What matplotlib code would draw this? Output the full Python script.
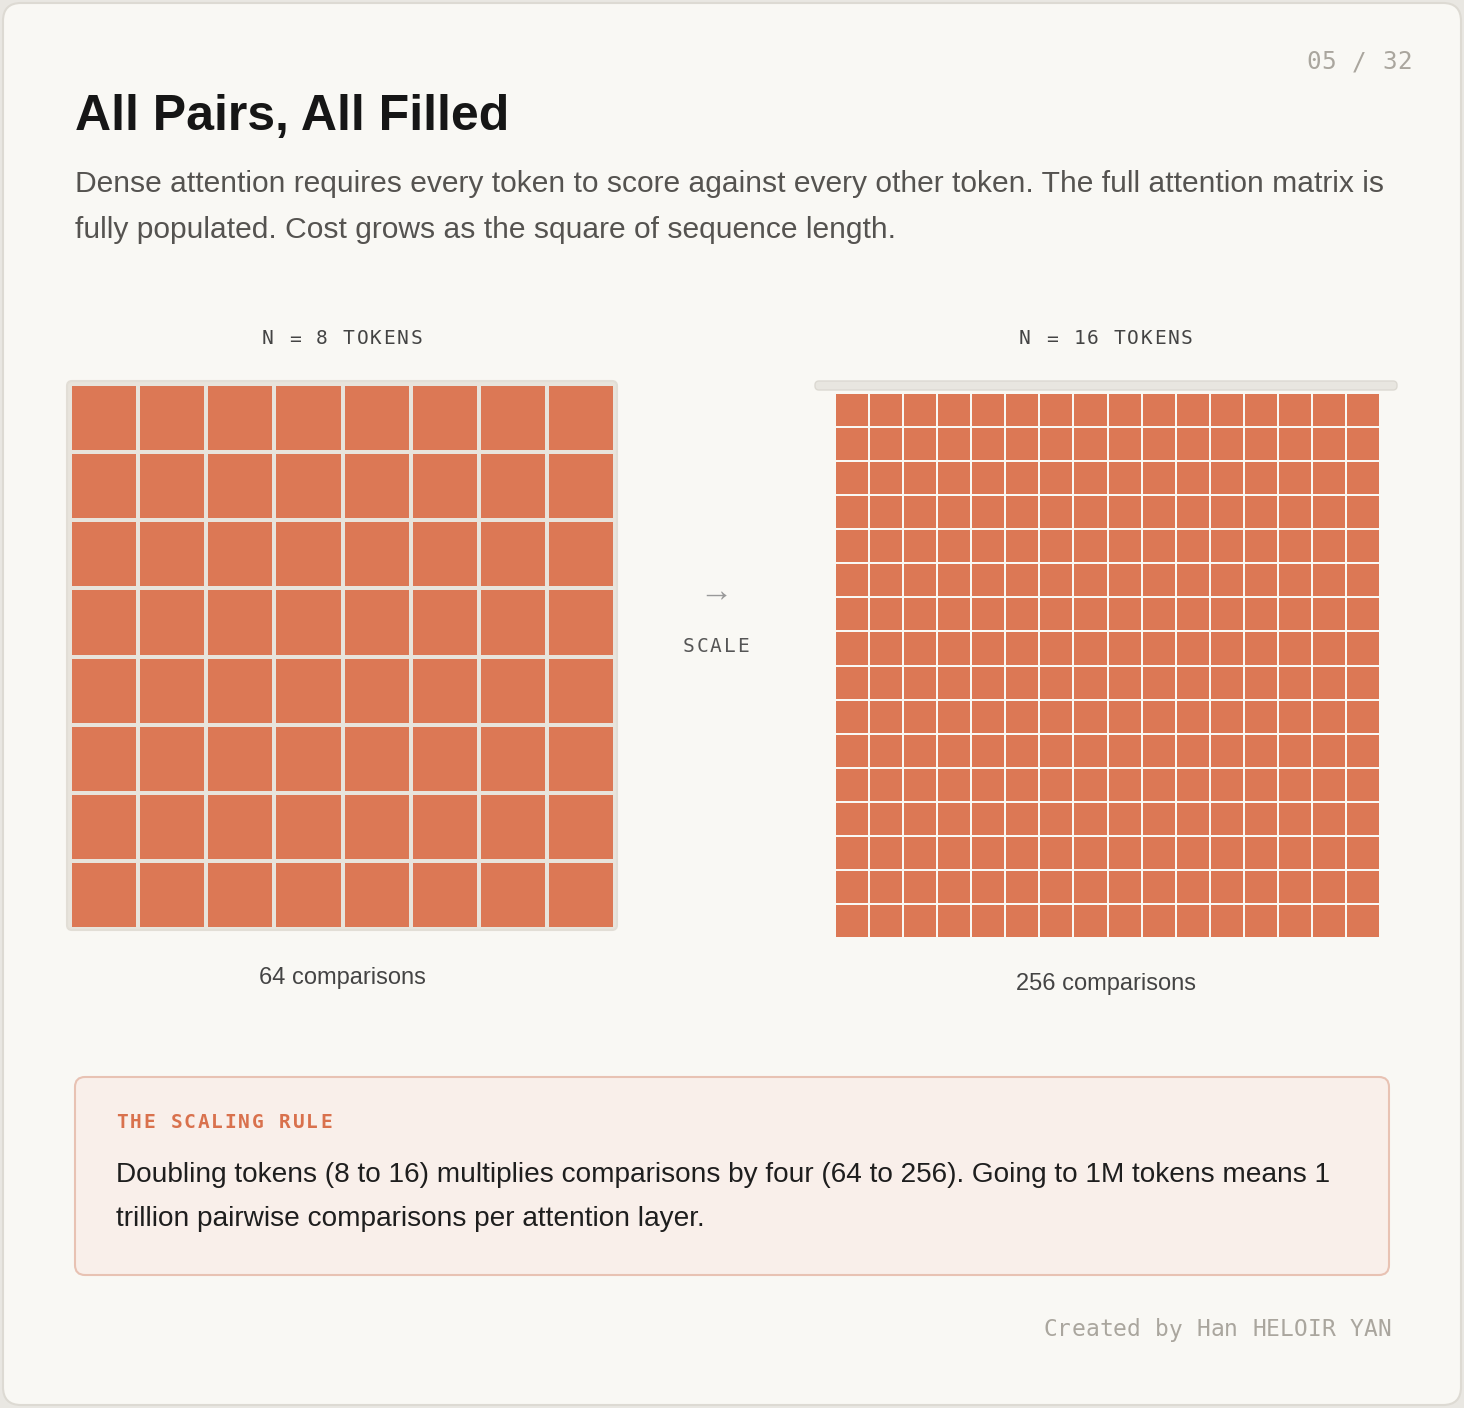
import matplotlib
matplotlib.use("Agg")
import matplotlib.pyplot as plt
from matplotlib.patches import Rectangle, FancyBboxPatch

# data
token_counts = [8, 16]
comparisons = [n * n for n in token_counts]
grid_labels = ["N = 8 TOKENS", "N = 16 TOKENS"]
comp_labels = [f"{c} comparisons" for c in comparisons]

BG = "#f9f8f4"
CELL = "#dc7855"
SANS = ["Liberation Sans", "DejaVu Sans"]
MONO = ["DejaVu Sans Mono"]

W, H = 1464, 1408
fig = plt.figure(figsize=(W / 100, H / 100), dpi=100)
fig.patch.set_facecolor("#e9e7e2")
ax = fig.add_axes([0, 0, 1, 1])
ax.set_xlim(0, W); ax.set_ylim(H, 0); ax.axis("off")


def spaced(x, y, s, size, pitch, ha="left", **kw):
    # monospace text with letter spacing; pitch = px per character
    total = pitch * len(s)
    if ha == "center":
        x = x - total / 2
    elif ha == "right":
        x = x - total
    for i, ch in enumerate(s):
        ax.text(x + i * pitch + pitch / 2, y, ch, family=MONO, fontsize=size,
                ha="center", va="center", **kw)


ax.add_patch(FancyBboxPatch((3, 3), W - 6, H - 6, boxstyle="round,pad=0,rounding_size=18",
                            fc=BG, ec="#dddad3", lw=1.5))

spaced(1412, 62, "05 / 32", 17.5, 15.2, ha="right", color="#aaa69e")
ax.text(75, 117, "All Pairs, All Filled", family=SANS, fontsize=36, weight="bold",
        color="#161616", va="center")
ax.text(75, 184, "Dense attention requires every token to score against every other token. The full attention matrix is",
        family=SANS, fontsize=21.6, color="#555350", va="center")
ax.text(75, 230, "fully populated. Cost grows as the square of sequence length.",
        family=SANS, fontsize=21.6, color="#555350", va="center")

# left grid
x0, y0, size, gap = 72, 386, 541, 4
ax.add_patch(FancyBboxPatch((67, 381), 550, 549, boxstyle="round,pad=0,rounding_size=5",
                            fc="#e8e4dc", ec="#e2ded6", lw=1.5))
n = token_counts[0]
step = (size + gap) / n
for i in range(n):
    for j in range(n):
        ax.add_patch(Rectangle((x0 + j * step, y0 + i * step), step - gap, step - gap, fc=CELL, ec="none"))
spaced(342, 339, grid_labels[0], 14, 13.5, ha="center", color="#444")
ax.text(342, 978, comp_labels[0], family=SANS, fontsize=17, color="#444", ha="center", va="center")

# right grid
ax.add_patch(FancyBboxPatch((815, 381), 582, 9, boxstyle="round,pad=0,rounding_size=4",
                            fc="#e8e6e0", ec="#dcd9d2", lw=1))
x1, y1, size1, gap1 = 836, 394, 543, 2
n = token_counts[1]
step = (size1 + gap1) / n
for i in range(n):
    for j in range(n):
        ax.add_patch(Rectangle((x1 + j * step, y1 + i * step), step - gap1, step - gap1, fc=CELL, ec="none"))
spaced(1106, 339, grid_labels[1], 14, 13.5, ha="center", color="#444")
ax.text(1106, 984, comp_labels[1], family=SANS, fontsize=17, color="#444", ha="center", va="center")

# arrow
ax.text(716, 592, "\u2192", family=SANS, fontsize=24, color="#999", ha="center", va="center")
spaced(716, 647, "SCALE", 14, 13.5, ha="center", color="#555")

# callout
ax.add_patch(FancyBboxPatch((75, 1077), 1314, 198, boxstyle="round,pad=0,rounding_size=10",
                            fc="#f9efea", ec="#e8c2b3", lw=1.5))
spaced(115, 1123, "THE SCALING RULE", 14, 13.6, color="#d9714d", weight="bold")
ax.text(116, 1175, "Doubling tokens (8 to 16) multiplies comparisons by four (64 to 256). Going to 1M tokens means 1",
        family=SANS, fontsize=20.2, color="#1e1e1e", va="center")
ax.text(116, 1219, "trillion pairwise comparisons per attention layer.",
        family=SANS, fontsize=20.2, color="#1e1e1e", va="center")

spaced(1391, 1330, "Created by Han HELOIR YAN", 16.5, 13.9, ha="right", color="#aaa69e")

fig.savefig("out.png", dpi=100, facecolor=fig.get_facecolor())
